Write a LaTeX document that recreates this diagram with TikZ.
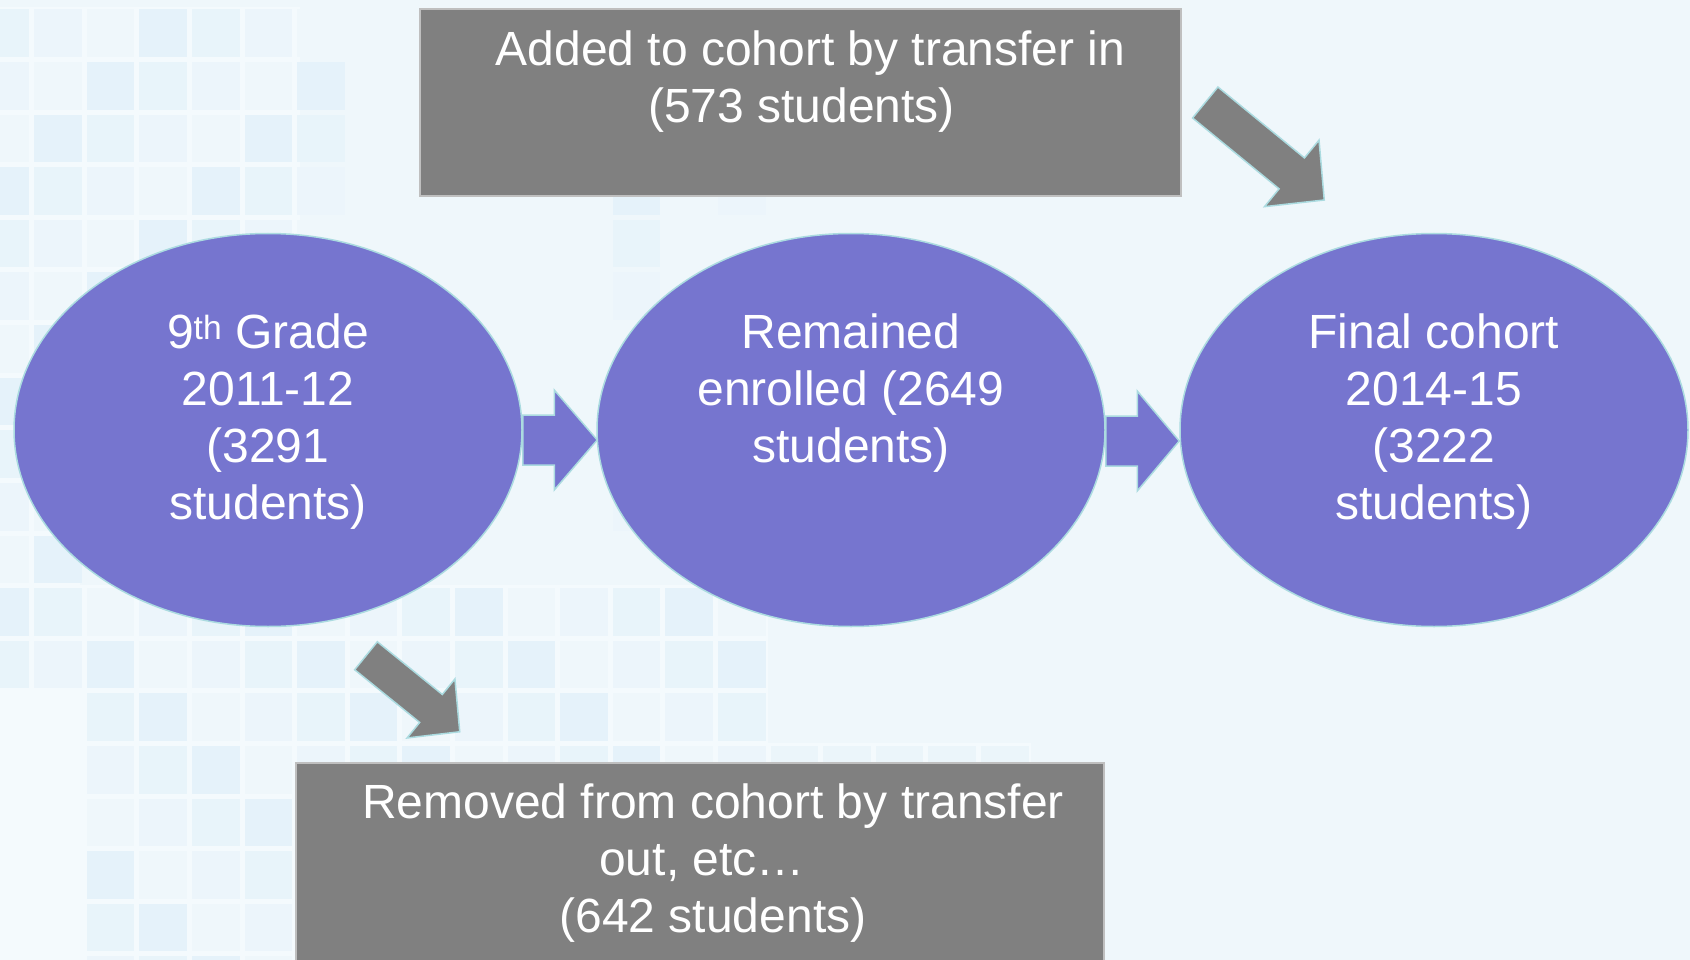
\documentclass[tikz,border=0pt]{standalone}
\usepackage{fontspec}
\setmainfont{Liberation Sans}
\usetikzlibrary{calc, positioning, shapes.geometric}

\definecolor{bgblue}{HTML}{EFF7FB}
\definecolor{cellblue}{HTML}{E0EFF9}
\definecolor{gridline}{HTML}{F4FAFD}
\definecolor{ovalfill}{HTML}{7675CF}
\definecolor{ovalline}{HTML}{ABDBE0}
\definecolor{boxfill}{HTML}{808080}
\definecolor{boxline}{HTML}{BFBFBF}

% fat block arrow: style, tail, tip, shaft half width, head half width, head length
\newcommand\blockarrow[6]{%
  \coordinate (ba-hb) at ($(#3)!#6!(#2)$);
  \filldraw[#1] ($(#2)!#4!90:(#3)$) -- ($(ba-hb)!#4!90:(#3)$) -- ($(ba-hb)!#5!90:(#3)$)
    -- (#3) -- ($(ba-hb)!#5!-90:(#3)$) -- ($(ba-hb)!#4!-90:(#3)$)
    -- ($(#2)!#4!-90:(#3)$) -- cycle;}

\begin{document}
\begin{tikzpicture}[x=1pt, y=-1pt,
        oval/.style={ellipse, draw=ovalline, line width=1.5pt, fill=ovalfill,
            minimum width=508pt, minimum height=393pt, inner sep=0pt},
        greybox/.style={rectangle, draw=boxline, line width=2.5pt, fill=boxfill, inner sep=0pt},
        txt/.style={text=white, align=center, inner sep=0pt, anchor=north,
            font=\fontsize{48}{57}\selectfont},
        purplearrow/.style={fill=ovalfill, draw=ovalline, line width=1.5pt},
        greyarrow/.style={fill=boxfill, draw=ovalline, line width=1.5pt}
    ]
    \clip (0,0) rectangle (1690,960);
    \fill[bgblue] (0,0) rectangle (1690,960);

    % background tiles
    \fill[gridline] (0,7) rectangle (300,480);
    \fill[gridline] (0,480) rectangle (80,585);
    \fill[gridline] (0,585) rectangle (768,960);
    \fill[gridline] (768,743) rectangle (1031,960);
    \foreach \i/\jlo/\jhi in {-1/0/12, 0/0/12, 1/0/8, 2/0/8, 3/0/8, 4/0/8, 5/0/8,
                              11/3/10, 13/3/10}
        \foreach \j in {\jlo,...,\jhi} {
            \pgfmathtruncatemacro\t{22*mod(\i*7+\j*3+9,4)}
            \fill[cellblue!\t!bgblue] (34.1+52.6*\i,9.5+52.6*\j) rectangle +(47.6,47.6);
        }
    \foreach \i in {1,...,13}
        \foreach \j in {11,...,18} {
            \pgfmathtruncatemacro\t{22*mod(\i*5+\j*7+2,4)}
            \fill[cellblue!\t!bgblue] (34.1+52.6*\i,9.5+52.6*\j) rectangle +(47.6,47.6);
        }
    \foreach \i in {14,...,18}
        \foreach \j in {14,...,18} {
            \pgfmathtruncatemacro\t{25*mod(\i*3+\j*5,3)}
            \fill[cellblue!\t!bgblue] (34.1+52.6*\i,9.5+52.6*\j) rectangle +(47.6,47.6);
        }

    % cohort stages
    \node[oval] (e1) at (268,430) {};
    \node[oval, right=73.5pt of e1] (e2) {};
    \node[oval, right=73.5pt of e2] (e3) {};

    \node[greybox, minimum width=761pt, minimum height=187pt] (tb) at (800.5,102.5) {};
    \node[greybox, minimum width=808pt, minimum height=237pt] (bb) at (700,881.5) {};

    % arrows
    \blockarrow{purplearrow}{$(e1.east)+(0,10)$}{$(e2.west)+(1,10)$}{25pt}{50pt}{43pt}
    \blockarrow{purplearrow}{$(e2.east)+(0,11)$}{$(e3.west)+(0,11)$}{25pt}{50pt}{42pt}
    \blockarrow{greyarrow}{$(tb.east)+(23,0)$}{$(tb.east)+(142,97.5)$}{20pt}{43pt}{42pt}
    \blockarrow{greyarrow}{$(e1.south)+(98,28.5)$}{$(bb.north west)+(165,-30)$}{18pt}{38pt}{37pt}

    % texts
    \node[txt] (t1) at ($(e1.center)+(0,-127)$)
        {\rule{0pt}{45pt}9\textsuperscript{th} Grade\\2011-12\\(3291\\students)};
    \node[txt] (t2) at ($(e2.center)+(0,-127)$)
        {\rule{0pt}{45pt}Remained\\enrolled (2649\\students)};
    \node[txt] (t3) at ($(e3.center)+(0,-127)$)
        {\rule{0pt}{45pt}Final cohort\\2014-15\\(3222\\students)};
    \node[txt] (tt) at ($(tb.north)+(10,13)$)
        {\rule{0pt}{45pt}Added to cohort by transfer in\\(573 students)\hspace*{18pt}};
    \node[txt] (bt) at ($(bb.north)+(13,12)$)
        {\rule{0pt}{45pt}Removed from cohort by transfer\\out, etc…\rule{22pt}{0pt}\\(642 students)};
\end{tikzpicture}
\end{document}
